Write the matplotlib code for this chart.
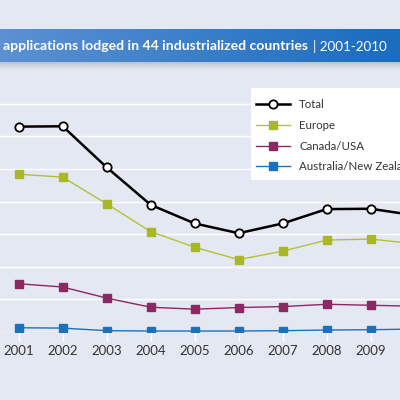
import matplotlib
matplotlib.use("Agg")
import matplotlib.pyplot as plt
import numpy as np
from matplotlib.lines import Line2D
from matplotlib.patches import Rectangle

# ---- data (thousands of asylum applications) ----
years = [2001, 2002, 2003, 2004, 2005, 2006, 2007, 2008, 2009, 2010]
total = [630, 631, 505, 390, 333, 303, 333, 377, 378, 358]
europe = [484, 475, 393, 308, 260, 222, 248, 282, 285, 271]
canada_usa = [148, 138, 104, 76, 70, 75, 78, 85, 82, 79]
australia_nz = [13, 12, 4, 3, 3, 3, 4, 6, 7, 9]
series_names = ["Total", "Europe", "Canada/USA", "Australia/New Zealand"]
title_bold = "applications lodged in 44 industrialized countries"
title_light = "2001-2010"

FONT = ["Lato", "DejaVu Sans"]
plt.rcParams["font.family"] = FONT

BG = "#e4e8f3"
C_TOTAL = "#000000"
C_EUR = "#b3c230"
C_CAN = "#8c2862"
C_AUS = "#1b72ba"

W = H = 400
fig = plt.figure(figsize=(4, 4), dpi=100, facecolor=BG)

def fy(px):
    return 1 - px / H

# ---- main axes ----
base_px = 332.0
step_px = 32.6
ytop = 720
ax_h = (ytop / 100) * step_px / H
ax = fig.add_axes([0, fy(base_px), 1, ax_h])
ax.set_facecolor(BG)
ax.set_yticks(range(0, 800, 100))
ax.grid(axis="y", color="white", linewidth=1.0)
ax.set_axisbelow(True)
for s in ax.spines.values():
    s.set_visible(False)
ax.tick_params(axis="y", length=0, labelleft=False)
ax.set_xticks(years)
ax.set_xticklabels([str(y) for y in years])
ax.tick_params(axis="x", direction="out", length=6.5, width=1.0, color="white",
               pad=3, labelsize=9.5, labelcolor="#333333")

ax.plot(years, australia_nz, color=C_AUS, lw=1.0, marker="s", ms=5.2,
        mfc=C_AUS, mec=C_AUS, zorder=3)
ax.plot(years, canada_usa, color=C_CAN, lw=1.0, marker="s", ms=5.2,
        mfc=C_CAN, mec=C_CAN, zorder=3)
ax.plot(years, europe, color=C_EUR, lw=1.0, marker="s", ms=5.2,
        mfc="#a9b826", mec="#a9b826", zorder=3)
ax.plot(years, total, color=C_TOTAL, lw=1.8, marker="o", ms=6.0,
        mfc="white", mec=C_TOTAL, mew=1.3, zorder=4)

x0 = 2001 - 18.7 / 44.0
x1 = 2001 + (400 - 18.7) / 44.0
ax.set_xlim(x0, x1)
ax.set_ylim(0, ytop)

# ---- legend ----
fig.patches.append(Rectangle((251 / W, fy(180)), 1, (180 - 88.5) / H,
                             transform=fig.transFigure, facecolor="white",
                             edgecolor="none", zorder=5))
handles = [
    Line2D([], [], color=C_TOTAL, lw=1.8, marker="o", ms=6.0, mfc="white", mec=C_TOTAL, mew=1.3),
    Line2D([], [], color=C_EUR, lw=1.0, marker="s", ms=5.2, mfc="#a9b826", mec="#a9b826"),
    Line2D([], [], color=C_CAN, lw=1.0, marker="s", ms=5.2, mfc=C_CAN, mec=C_CAN),
    Line2D([], [], color=C_AUS, lw=1.0, marker="s", ms=5.2, mfc=C_AUS, mec=C_AUS),
]
leg = fig.legend(handles, series_names, loc="upper left",
                 bbox_to_anchor=(256 / W, fy(99.5)), bbox_transform=fig.transFigure,
                 frameon=False, fontsize=8.3, handlelength=2.95, handletextpad=0.8,
                 labelspacing=0.83, borderpad=0, borderaxespad=0)
leg.set_zorder(6)
for t in leg.get_texts():
    t.set_color("#333333")

# ---- banner ----
shadow = fig.add_axes([0, fy(70), 1, 8.5 / H])
sh = np.linspace(0, 1, 50)[:, None] * np.ones((1, 10))
shadow.imshow(sh, aspect="auto", cmap=matplotlib.colors.LinearSegmentedColormap.from_list(
    "s", ["#b8bcc6", BG]), extent=[0, 1, 1, 0])
shadow.set_axis_off()

bax = fig.add_axes([0, fy(61.7), 1, 32.4 / H])
left = np.array([92, 145, 210]) / 255
right = np.array([26, 108, 190]) / 255
t = np.linspace(0, 1, 256)
grad = left[None, :] * (1 - t[:, None]) + right[None, :] * t[:, None]
bax.imshow(grad[None, :, :], aspect="auto", extent=[0, 1, 0, 1])
bax.set_xlim(0, 1)
bax.set_ylim(0, 1)
bax.set_axis_off()

fs = 11.0
tb = bax.text(3 / W, 0.47, title_bold, color="white", fontsize=fs,
              fontweight="bold", va="center", ha="left", transform=bax.transAxes)
fig.canvas.draw()
r = fig.canvas.get_renderer()
bb = tb.get_window_extent(r)
fs = fs * 304.0 / bb.width
tb.set_fontsize(fs)
fig.canvas.draw()
bb = tb.get_window_extent(r)
bax.text((bb.x1 + 5) / W, 0.47, "| " + title_light, color="white", fontsize=fs * 0.95,
         va="center", ha="left", transform=bax.transAxes)

fig.savefig("out.png", dpi=100, facecolor=BG)
